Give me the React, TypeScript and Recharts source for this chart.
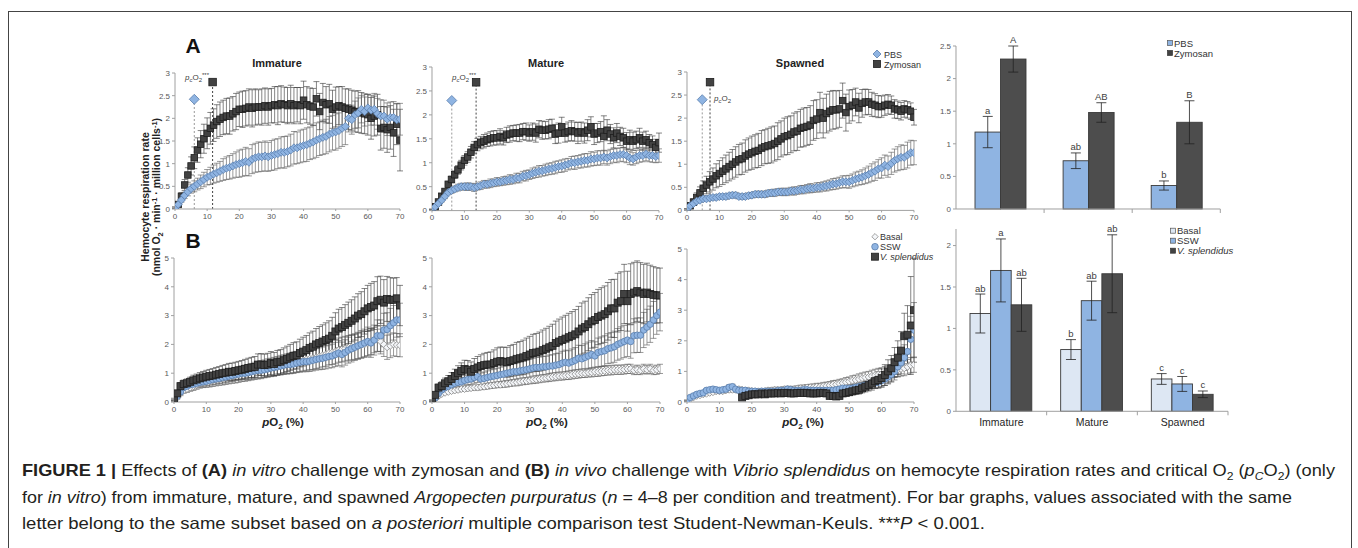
import React from "react";
import {
  Bar,
  BarChart,
  ErrorBar,
  ReferenceLine,
  Scatter,
  ScatterChart,
  XAxis,
  YAxis,
} from "recharts";

// ---- data ----
const PO2 = [
  0, 1, 2, 3, 4, 5, 6, 7, 8, 9, 10, 11, 12, 13, 14, 15, 16, 17, 18, 19, 20,
  21, 22, 23, 24, 25, 26, 27, 28, 29, 30, 31, 32, 33, 34, 35, 36, 37, 38, 39,
  40, 41, 42, 43, 44, 45, 46, 47, 48, 49, 50, 51, 52, 53, 54, 55, 56, 57, 58,
  59, 60, 61, 62, 63, 64, 65, 66, 67, 68, 69, 70,
];
const PO2_TICKS = [0, 10, 20, 30, 40, 50, 60, 70];
const A_TICKS = [0, 0.5, 1, 1.5, 2, 2.5, 3];
const B_TICKS = [0, 1, 2, 3, 4, 5];

// (A) in vitro, zymosan vs PBS
const ZYM_IMM = [
  0.03, 0.1, 0.28, 0.53, 0.75, 0.95, 1.13, 1.3, 1.43, 1.55,
  1.67, 1.78, 1.85, 1.93, 1.98, 2.02, 2.05, 2.05, 2.1, 2.15,
  2.2, 2.2, 2.22, 2.25, 2.22, 2.25, 2.25, 2.25, 2.28, 2.25,
  2.28, 2.3, 2.28, 2.32, 2.3, 2.28, 2.32, 2.28, 2.3, 2.28,
  2.4, 2.3, 2.27, 2.25, 2.43, 2.15, 2.35, 2.3, 2.32, 2.2,
  2.25, 2.28, 2.25, 2.22, 2.2, 2.18, 2.15, 2.15, 2.12, 2.1,
  2.08, 2.0, 2.05, 2.08, 1.78, 1.8, 1.75, 1.8, 1.68, 1.87,
  1.52,
];
const ZYM_IMM_SE = [
  0.02, 0.04, 0.08, 0.12, 0.16, 0.2, 0.24, 0.27, 0.3, 0.32,
  0.34, 0.35, 0.36, 0.37, 0.38, 0.38, 0.39, 0.4, 0.38, 0.4,
  0.38, 0.4, 0.39, 0.4, 0.41, 0.4, 0.38, 0.4, 0.39, 0.4,
  0.38, 0.4, 0.42, 0.4, 0.39, 0.4, 0.41, 0.4, 0.38, 0.4,
  0.42, 0.4, 0.4, 0.41, 0.38, 0.4, 0.42, 0.4, 0.43, 0.42,
  0.44, 0.42, 0.45, 0.43, 0.45, 0.44, 0.45, 0.46, 0.45, 0.44,
  0.45, 0.46, 0.44, 0.45, 0.48, 0.46, 0.5, 0.48, 0.52, 0.45,
  0.68,
];
const PBS_IMM = [
  0.02, 0.1, 0.2, 0.3, 0.38, 0.45, 0.5, 0.55, 0.6, 0.65,
  0.7, 0.73, 0.77, 0.8, 0.83, 0.87, 0.9, 0.92, 0.95, 0.98,
  1.0, 1.02, 1.05, 1.03, 1.1, 1.13, 1.15, 1.15, 1.17, 1.15,
  1.18, 1.2, 1.22, 1.25, 1.25, 1.27, 1.3, 1.35, 1.35, 1.38,
  1.4, 1.42, 1.45, 1.48, 1.52, 1.55, 1.58, 1.6, 1.65, 1.68,
  1.7, 1.73, 1.78, 1.82, 2.0, 1.97, 2.08, 2.12, 2.2, 2.15,
  2.23, 2.18, 2.2, 2.1, 2.05, 2.05, 1.98, 2.02, 2.02, 1.97,
  1.98,
];
const PBS_IMM_SE = [
  0.01, 0.03, 0.05, 0.07, 0.09, 0.1, 0.12, 0.13, 0.15, 0.16,
  0.17, 0.19, 0.2, 0.21, 0.22, 0.24, 0.25, 0.26, 0.27, 0.28,
  0.3, 0.3, 0.31, 0.3, 0.32, 0.32, 0.33, 0.32, 0.33, 0.32,
  0.33, 0.34, 0.33, 0.34, 0.35, 0.34, 0.35, 0.36, 0.35, 0.36,
  0.36, 0.37, 0.36, 0.37, 0.38, 0.37, 0.38, 0.38, 0.39, 0.38,
  0.4, 0.39, 0.4, 0.4, 0.3, 0.32, 0.3, 0.33, 0.3, 0.32,
  0.3, 0.33, 0.35, 0.34, 0.36, 0.35, 0.36, 0.34, 0.35, 0.36,
  0.35,
];
const ZYM_MAT = [
  0.02, 0.08, 0.18, 0.3, 0.4, 0.55, 0.65, 0.75, 0.85, 0.95,
  1.05, 1.12, 1.22, 1.32, 1.38, 1.42, 1.45, 1.48, 1.5, 1.52,
  1.52, 1.55, 1.52, 1.58, 1.6, 1.62, 1.62, 1.62, 1.65, 1.65,
  1.62, 1.65, 1.62, 1.7, 1.68, 1.68, 1.7, 1.72, 1.6, 1.62,
  1.75, 1.62, 1.65, 1.67, 1.65, 1.62, 1.65, 1.62, 1.68, 1.75,
  1.6, 1.62, 1.65, 1.55, 1.68, 1.6, 1.52, 1.62, 1.55, 1.52,
  1.45, 1.48, 1.45, 1.48, 1.52, 1.45, 1.48, 1.42, 1.38, 1.32,
  1.42,
];
const ZYM_MAT_SE = [
  0.01, 0.02, 0.03, 0.04, 0.05, 0.06, 0.07, 0.08, 0.09, 0.1,
  0.1, 0.11, 0.12, 0.12, 0.13, 0.13, 0.14, 0.14, 0.15, 0.15,
  0.15, 0.16, 0.15, 0.16, 0.17, 0.16, 0.17, 0.18, 0.17, 0.18,
  0.17, 0.18, 0.19, 0.18, 0.19, 0.18, 0.2, 0.19, 0.2, 0.21,
  0.2, 0.19, 0.2, 0.21, 0.2, 0.22, 0.2, 0.21, 0.22, 0.21,
  0.22, 0.2, 0.21, 0.43, 0.22, 0.2, 0.21, 0.2, 0.19, 0.2,
  0.18, 0.2, 0.19, 0.18, 0.2, 0.19, 0.18, 0.17, 0.18, 0.17,
  0.2,
];
const PBS_MAT = [
  0.02, 0.08, 0.15, 0.22, 0.3, 0.38, 0.42, 0.45, 0.48, 0.5,
  0.5, 0.5, 0.5, 0.48, 0.5, 0.52, 0.55, 0.55, 0.57, 0.58,
  0.6, 0.6, 0.62, 0.63, 0.65, 0.65, 0.68, 0.68, 0.72, 0.73,
  0.75, 0.78, 0.8, 0.82, 0.83, 0.85, 0.87, 0.88, 0.9, 0.92,
  0.93, 0.95, 0.97, 1.0, 1.0, 1.02, 1.03, 1.05, 1.05, 1.08,
  1.08, 1.1, 1.1, 1.12, 1.1, 1.13, 1.15, 1.15, 1.17, 1.17,
  1.15, 1.1, 1.08, 1.12, 1.15, 1.15, 1.18, 1.15, 1.15, 1.13,
  1.15,
];
const PBS_MAT_SE = [
  0.01, 0.02, 0.03, 0.04, 0.05, 0.05, 0.06, 0.06, 0.07, 0.07,
  0.07, 0.08, 0.07, 0.08, 0.07, 0.08, 0.08, 0.08, 0.09, 0.08,
  0.09, 0.08, 0.09, 0.09, 0.1, 0.09, 0.1, 0.1, 0.1, 0.11,
  0.1, 0.11, 0.11, 0.12, 0.11, 0.12, 0.12, 0.12, 0.13, 0.12,
  0.13, 0.13, 0.12, 0.13, 0.14, 0.13, 0.14, 0.14, 0.14, 0.15,
  0.14, 0.15, 0.15, 0.14, 0.15, 0.15, 0.14, 0.15, 0.14, 0.15,
  0.15, 0.14, 0.13, 0.14, 0.14, 0.13, 0.14, 0.13, 0.14, 0.13,
  0.14,
];
const ZYM_SPA = [
  0.02, 0.1, 0.18, 0.28, 0.38, 0.48, 0.55, 0.62, 0.68, 0.75,
  0.8, 0.85, 0.9, 0.95, 1.0, 1.05, 1.1, 1.12, 1.18, 1.22,
  1.25, 1.28, 1.3, 1.35, 1.38, 1.4, 1.42, 1.45, 1.5, 1.55,
  1.6, 1.62, 1.65, 1.7, 1.72, 1.78, 1.8, 1.82, 1.85, 1.95,
  1.98, 2.12, 2.0, 2.1, 2.15, 2.18, 2.18, 2.2, 2.38, 2.12,
  2.25, 2.28, 2.35, 2.22, 2.32, 2.35, 2.35, 2.3, 2.28, 2.25,
  2.25, 2.28, 2.3, 2.28, 2.2, 2.18, 2.15, 2.2, 2.18, 2.15,
  2.02,
];
const ZYM_SPA_SE = [
  0.02, 0.04, 0.07, 0.1, 0.13, 0.16, 0.19, 0.22, 0.24, 0.26,
  0.28, 0.29, 0.3, 0.31, 0.32, 0.33, 0.33, 0.34, 0.35, 0.35,
  0.36, 0.36, 0.37, 0.38, 0.37, 0.38, 0.39, 0.38, 0.4, 0.39,
  0.4, 0.41, 0.4, 0.41, 0.42, 0.41, 0.42, 0.41, 0.42, 0.43,
  0.42, 0.44, 0.43, 0.42, 0.43, 0.42, 0.41, 0.4, 0.38, 0.4,
  0.36, 0.34, 0.3, 0.32, 0.3, 0.28, 0.27, 0.26, 0.25, 0.24,
  0.23, 0.22, 0.21, 0.2, 0.2, 0.19, 0.19, 0.18, 0.18, 0.18,
  0.17,
];
const PBS_SPA = [
  0.02, 0.1, 0.15, 0.2, 0.22, 0.25, 0.25, 0.27, 0.28, 0.28,
  0.3, 0.3, 0.3, 0.32, 0.33, 0.33, 0.3, 0.3, 0.3, 0.32,
  0.33, 0.35, 0.35, 0.35, 0.35, 0.37, 0.38, 0.38, 0.4, 0.4,
  0.4, 0.4, 0.42, 0.42, 0.43, 0.45, 0.45, 0.47, 0.48, 0.48,
  0.5, 0.5, 0.52, 0.53, 0.55, 0.57, 0.58, 0.6, 0.62, 0.62,
  0.62, 0.65, 0.68, 0.7, 0.72, 0.75, 0.78, 0.82, 0.85, 0.9,
  0.92, 0.98, 0.95, 1.02, 1.08, 1.12, 1.15, 1.15, 1.2, 1.25,
  1.25,
];
const PBS_SPA_SE = [
  0.01, 0.02, 0.03, 0.03, 0.04, 0.04, 0.04, 0.05, 0.05, 0.05,
  0.05, 0.05, 0.06, 0.05, 0.06, 0.06, 0.05, 0.06, 0.05, 0.06,
  0.06, 0.06, 0.07, 0.06, 0.07, 0.07, 0.07, 0.08, 0.07, 0.08,
  0.08, 0.08, 0.08, 0.09, 0.08, 0.09, 0.09, 0.09, 0.1, 0.09,
  0.1, 0.1, 0.1, 0.11, 0.11, 0.12, 0.12, 0.12, 0.13, 0.13,
  0.14, 0.14, 0.15, 0.15, 0.16, 0.17, 0.18, 0.19, 0.2, 0.2,
  0.22, 0.22, 0.23, 0.24, 0.25, 0.26, 0.27, 0.26, 0.28, 0.27,
  0.26,
];

// critical pO2 markers [pO2, rate]
const CRIT_IMM = { pbs: [6.0, 2.42], zym: [11.7, 2.8] };
const CRIT_MAT = { pbs: [6.1, 2.3], zym: [13.6, 2.68] };
const CRIT_SPA = { pbs: [4.7, 2.4], zym: [7.1, 2.78] };

// (B) in vivo, V. splendidus vs SSW vs basal
const VS_IMM = [
  0.1, 0.3, 0.55, 0.62, 0.65, 0.7, 0.75, 0.78, 0.82, 0.85,
  0.88, 0.9, 0.92, 0.95, 0.97, 1.0, 1.02, 1.05, 1.05, 1.08,
  1.1, 1.12, 1.15, 1.18, 1.2, 1.22, 1.3, 1.3, 1.28, 1.3,
  1.35, 1.32, 1.38, 1.4, 1.45, 1.5, 1.55, 1.6, 1.62, 1.7,
  1.75, 1.8, 1.88, 1.92, 2.0, 2.05, 2.1, 2.15, 2.2, 2.3,
  2.45, 2.55, 2.6, 2.68, 2.75, 2.82, 2.9, 3.0, 3.05, 3.15,
  3.25, 3.3, 3.35, 3.5, 3.55, 3.45, 3.58, 3.55, 3.55, 3.6,
  3.35,
];
const VS_IMM_SE = [
  0.03, 0.08, 0.12, 0.14, 0.15, 0.16, 0.18, 0.19, 0.2, 0.21,
  0.22, 0.23, 0.24, 0.25, 0.26, 0.27, 0.28, 0.29, 0.3, 0.3,
  0.31, 0.32, 0.33, 0.34, 0.35, 0.36, 0.37, 0.38, 0.38, 0.39,
  0.4, 0.4, 0.41, 0.42, 0.43, 0.44, 0.45, 0.46, 0.47, 0.48,
  0.5, 0.51, 0.52, 0.54, 0.55, 0.57, 0.58, 0.6, 0.62, 0.64,
  0.65, 0.67, 0.68, 0.7, 0.72, 0.73, 0.75, 0.76, 0.78, 0.79,
  0.8, 0.82, 0.83, 0.85, 0.82, 0.8, 0.78, 0.77, 0.75, 0.72,
  0.7,
];
const SSW_IMM = [
  0.05, 0.2, 0.35, 0.5, 0.55, 0.6, 0.62, 0.65, 0.68, 0.7,
  0.72, 0.75, 0.78, 0.8, 0.82, 0.85, 0.87, 0.9, 0.92, 0.95,
  0.97, 1.0, 1.0, 1.02, 1.05, 1.08, 1.1, 1.1, 1.12, 1.15,
  1.18, 1.2, 1.22, 1.25, 1.28, 1.3, 1.3, 1.32, 1.35, 1.38,
  1.4, 1.4, 1.42, 1.45, 1.48, 1.5, 1.52, 1.55, 1.58, 1.6,
  1.65, 1.7, 1.65, 1.72, 1.8, 1.85, 1.9, 1.95, 2.0, 2.05,
  2.1, 2.05, 2.15, 2.3, 2.3, 2.5, 2.52, 2.65, 2.75, 2.85,
  2.85,
];
const SSW_IMM_SE = [
  0.02, 0.05, 0.08, 0.1, 0.11, 0.12, 0.13, 0.14, 0.15, 0.15,
  0.16, 0.17, 0.17, 0.18, 0.18, 0.19, 0.2, 0.2, 0.21, 0.21,
  0.22, 0.22, 0.23, 0.24, 0.24, 0.25, 0.26, 0.26, 0.27, 0.27,
  0.28, 0.29, 0.29, 0.3, 0.31, 0.31, 0.32, 0.33, 0.33, 0.34,
  0.35, 0.35, 0.36, 0.37, 0.37, 0.38, 0.39, 0.4, 0.4, 0.41,
  0.42, 0.43, 0.43, 0.44, 0.45, 0.46, 0.46, 0.47, 0.48, 0.48,
  0.5, 0.5, 0.52, 0.55, 0.55, 0.58, 0.58, 0.6, 0.6, 0.6,
  0.58,
];
const BAS_IMM = [
  0.03, 0.15, 0.3, 0.4, 0.45, 0.5, 0.55, 0.6, 0.65, 0.68,
  0.7, 0.72, 0.75, 0.78, 0.8, 0.82, 0.85, 0.88, 0.9, 0.92,
  0.95, 0.98, 1.0, 1.02, 1.05, 1.08, 1.1, 1.12, 1.15, 1.18,
  1.2, 1.22, 1.25, 1.28, 1.3, 1.32, 1.35, 1.38, 1.4, 1.42,
  1.45, 1.48, 1.5, 1.52, 1.55, 1.58, 1.62, 1.65, 1.7, 1.72,
  1.75, 1.8, 1.82, 1.85, 1.88, 1.9, 1.92, 1.95, 1.98, 2.0,
  2.05, 2.1, 2.15, 2.2, 2.1, 2.0, 1.9, 1.95, 2.0, 1.98,
  1.97,
];
const BAS_IMM_SE = [
  0.02, 0.05, 0.08, 0.1, 0.12, 0.13, 0.15, 0.16, 0.17, 0.18,
  0.19, 0.2, 0.21, 0.22, 0.22, 0.23, 0.24, 0.25, 0.25, 0.26,
  0.27, 0.27, 0.28, 0.28, 0.29, 0.3, 0.3, 0.31, 0.31, 0.32,
  0.32, 0.33, 0.33, 0.34, 0.34, 0.35, 0.35, 0.36, 0.36, 0.37,
  0.37, 0.38, 0.38, 0.39, 0.39, 0.4, 0.4, 0.41, 0.41, 0.42,
  0.42, 0.42, 0.43, 0.43, 0.43, 0.44, 0.44, 0.44, 0.45, 0.45,
  0.45, 0.45, 0.44, 0.44, 0.43, 0.42, 0.42, 0.41, 0.4, 0.4,
  0.4,
];
const VS_MAT = [
  0.05, 0.25, 0.5, 0.55, 0.65, 0.72, 0.8, 0.9, 1.0, 1.08,
  1.15, 1.12, 1.05, 1.15, 1.2, 1.25, 1.28, 1.3, 1.3, 1.35,
  1.4, 1.42, 1.4, 1.38, 1.42, 1.45, 1.5, 1.52, 1.55, 1.6,
  1.65, 1.7, 1.72, 1.75, 1.8, 1.85, 1.9, 1.95, 2.05, 2.1,
  2.15, 2.2, 2.25, 2.3, 2.35, 2.45, 2.55, 2.6, 2.7, 2.8,
  2.85, 2.95, 3.0, 3.05, 3.15, 3.25, 3.25, 3.45, 3.5, 3.75,
  3.5, 3.75, 3.8, 3.85, 3.8, 3.75, 3.8, 3.75, 3.72, 3.7,
  3.7,
];
const VS_MAT_SE = [
  0.03, 0.08, 0.12, 0.15, 0.18, 0.2, 0.22, 0.24, 0.26, 0.28,
  0.3, 0.32, 0.34, 0.36, 0.38, 0.39, 0.41, 0.42, 0.44, 0.46,
  0.48, 0.49, 0.5, 0.52, 0.54, 0.55, 0.57, 0.58, 0.6, 0.62,
  0.63, 0.65, 0.66, 0.68, 0.7, 0.71, 0.73, 0.75, 0.76, 0.78,
  0.8, 0.81, 0.83, 0.84, 0.86, 0.87, 0.89, 0.9, 0.92, 0.93,
  0.95, 0.96, 0.97, 0.98, 1.0, 1.0, 1.01, 1.02, 1.02, 1.03,
  1.04, 1.05, 1.05, 1.05, 1.04, 1.03, 1.02, 1.0, 0.98, 0.96,
  0.95,
];
const SSW_MAT = [
  0.03, 0.15, 0.3, 0.42, 0.5, 0.55, 0.6, 0.65, 0.68, 0.7,
  0.75, 0.78, 0.8, 0.85, 0.88, 0.8, 0.82, 0.85, 0.88, 0.9,
  0.92, 0.95, 0.97, 1.0, 1.02, 1.05, 1.05, 1.08, 1.1, 1.12,
  1.15, 1.18, 1.2, 1.2, 1.22, 1.22, 1.25, 1.25, 1.28, 1.3,
  1.35, 1.38, 1.35, 1.4, 1.45, 1.52, 1.5, 1.55, 1.6, 1.65,
  1.6, 1.72, 1.75, 1.78, 1.85, 1.88, 1.92, 2.0, 2.05, 2.1,
  2.15, 2.1, 2.3, 2.32, 2.32, 2.5, 2.6, 2.7, 2.85, 3.0,
  3.12,
];
const SSW_MAT_SE = [
  0.02, 0.05, 0.08, 0.1, 0.11, 0.12, 0.13, 0.14, 0.15, 0.16,
  0.17, 0.18, 0.19, 0.2, 0.2, 0.21, 0.22, 0.23, 0.24, 0.24,
  0.25, 0.26, 0.27, 0.28, 0.28, 0.29, 0.3, 0.31, 0.32, 0.32,
  0.33, 0.34, 0.35, 0.36, 0.36, 0.37, 0.38, 0.39, 0.4, 0.4,
  0.41, 0.42, 0.43, 0.44, 0.44, 0.45, 0.46, 0.47, 0.48, 0.48,
  0.49, 0.5, 0.51, 0.52, 0.52, 0.53, 0.54, 0.55, 0.56, 0.56,
  0.57, 0.58, 0.59, 0.6, 0.6, 0.61, 0.62, 0.63, 0.64, 0.65,
  0.65,
];
const BAS_MAT = [
  0.02, 0.1, 0.2, 0.28, 0.32, 0.35, 0.38, 0.4, 0.42, 0.45,
  0.45, 0.47, 0.48, 0.5, 0.5, 0.52, 0.53, 0.55, 0.57, 0.58,
  0.6, 0.6, 0.62, 0.63, 0.65, 0.67, 0.68, 0.7, 0.72, 0.73,
  0.75, 0.77, 0.78, 0.8, 0.82, 0.83, 0.85, 0.87, 0.88, 0.9,
  0.9, 0.92, 0.93, 0.95, 0.97, 0.98, 1.0, 1.0, 1.02, 1.03,
  1.05, 1.05, 1.07, 1.08, 1.1, 1.1, 1.12, 1.12, 1.12, 1.13,
  1.15, 1.15, 1.1, 1.12, 1.1, 1.15, 1.12, 1.15, 1.1, 1.12,
  1.15,
];
const BAS_MAT_SE = [
  0.01, 0.02, 0.03, 0.04, 0.05, 0.05, 0.06, 0.06, 0.07, 0.07,
  0.07, 0.08, 0.08, 0.08, 0.09, 0.09, 0.09, 0.1, 0.1, 0.1,
  0.1, 0.1, 0.11, 0.11, 0.11, 0.11, 0.12, 0.12, 0.12, 0.12,
  0.12, 0.13, 0.13, 0.13, 0.13, 0.13, 0.14, 0.14, 0.14, 0.14,
  0.14, 0.14, 0.15, 0.15, 0.15, 0.15, 0.15, 0.15, 0.15, 0.16,
  0.16, 0.16, 0.16, 0.16, 0.16, 0.16, 0.16, 0.16, 0.16, 0.16,
  0.16, 0.16, 0.15, 0.16, 0.15, 0.16, 0.15, 0.16, 0.15, 0.16,
  0.16,
];
const VS_SPA = [
  null, null, null, null, null, null, null, null, null, null,
  null, null, null, null, null, null, null, 0.15, 0.2, 0.22,
  0.25, 0.25, 0.25, 0.28, 0.25, 0.28, 0.28, 0.28, 0.3, 0.28,
  0.3, 0.3, 0.28, 0.28, 0.3, 0.3, 0.3, 0.3, 0.28, 0.28,
  0.28, 0.3, 0.3, 0.28, 0.2, 0.2, 0.18, 0.2, 0.28, 0.3,
  0.32, 0.35, 0.38, 0.4, 0.45, 0.5, 0.55, 0.6, 0.68, 0.72,
  0.78, 0.88, 1.0, 1.1, 1.3, 1.45, 1.68, 2.15, 2.2, 2.5,
  3.0,
];
const VS_SPA_SE = [
  0, 0, 0, 0, 0, 0, 0, 0, 0, 0,
  0, 0, 0, 0, 0, 0, 0, 0.05, 0.06, 0.06,
  0.06, 0.07, 0.07, 0.07, 0.07, 0.08, 0.08, 0.08, 0.08, 0.08,
  0.08, 0.09, 0.09, 0.09, 0.09, 0.09, 0.09, 0.1, 0.1, 0.1,
  0.1, 0.1, 0.1, 0.1, 0.08, 0.08, 0.08, 0.08, 0.1, 0.1,
  0.11, 0.12, 0.13, 0.14, 0.15, 0.17, 0.19, 0.21, 0.24, 0.27,
  0.3, 0.34, 0.38, 0.42, 0.48, 0.55, 0.62, 0.75, 0.95, 1.6,
  1.7,
];
const SSW_SPA = [
  0.05, 0.15, 0.2, 0.25, 0.28, 0.3, 0.38, 0.4, 0.42, 0.4,
  0.38, 0.4, 0.42, 0.48, 0.5, 0.42, 0.38, 0.38, 0.38, 0.35,
  0.35, 0.35, 0.33, 0.35, 0.35, 0.35, 0.35, 0.35, 0.37, 0.38,
  0.38, 0.42, 0.4, 0.38, 0.38, 0.38, 0.4, 0.4, 0.38, 0.38,
  0.38, 0.38, 0.38, 0.38, 0.38, 0.38, 0.4, 0.42, 0.45, 0.45,
  0.45, 0.45, 0.48, 0.5, 0.52, 0.55, 0.58, 0.6, 0.62, 0.65,
  0.7, 0.75, 0.82, 0.9, 1.0, 1.15, 1.28, 1.45, 1.65, 2.05,
  2.35,
];
const SSW_SPA_SE = [
  0.02, 0.03, 0.04, 0.05, 0.05, 0.06, 0.06, 0.07, 0.07, 0.07,
  0.07, 0.07, 0.08, 0.08, 0.08, 0.08, 0.08, 0.08, 0.08, 0.08,
  0.08, 0.08, 0.08, 0.08, 0.08, 0.08, 0.08, 0.08, 0.08, 0.08,
  0.09, 0.09, 0.09, 0.09, 0.09, 0.09, 0.09, 0.09, 0.09, 0.09,
  0.09, 0.09, 0.09, 0.1, 0.1, 0.1, 0.1, 0.1, 0.11, 0.11,
  0.11, 0.12, 0.12, 0.13, 0.13, 0.14, 0.15, 0.16, 0.17, 0.18,
  0.19, 0.21, 0.23, 0.25, 0.28, 0.32, 0.36, 0.42, 0.5, 0.75,
  0.9,
];
const BAS_SPA = [
  0.03, 0.1, 0.15, 0.2, 0.22, 0.25, 0.27, 0.3, 0.32, 0.35,
  0.35, 0.35, 0.38, 0.4, 0.4, 0.4, 0.42, 0.4, 0.38, 0.38,
  0.36, 0.35, 0.35, 0.35, 0.35, 0.38, 0.38, 0.4, 0.4, 0.4,
  0.42, 0.42, 0.42, 0.42, 0.44, 0.45, 0.45, 0.47, 0.48, 0.48,
  0.5, 0.5, 0.52, 0.53, 0.55, 0.57, 0.58, 0.6, 0.62, 0.65,
  0.67, 0.7, 0.72, 0.75, 0.78, 0.8, 0.82, 0.85, 0.88, 0.9,
  0.92, 0.95, 0.98, 1.0, 1.02, 1.05, 1.08, 1.1, 1.15, 1.2,
  1.22,
];
const BAS_SPA_SE = [
  0.01, 0.02, 0.03, 0.03, 0.04, 0.04, 0.05, 0.05, 0.05, 0.06,
  0.06, 0.06, 0.06, 0.07, 0.07, 0.07, 0.07, 0.07, 0.07, 0.07,
  0.07, 0.07, 0.07, 0.07, 0.07, 0.08, 0.08, 0.08, 0.08, 0.08,
  0.08, 0.09, 0.09, 0.09, 0.09, 0.1, 0.1, 0.1, 0.1, 0.11,
  0.11, 0.11, 0.12, 0.12, 0.12, 0.13, 0.13, 0.14, 0.14, 0.15,
  0.15, 0.16, 0.16, 0.17, 0.17, 0.18, 0.18, 0.19, 0.19, 0.2,
  0.2, 0.21, 0.21, 0.22, 0.22, 0.23, 0.23, 0.24, 0.24, 0.25,
  0.25,
];

// bar graphs
const STAGES = ["Immature", "Mature", "Spawned"];
const PBS_RATE = [1.18, 0.74, 0.36];
const PBS_RATE_SE = [0.24, 0.12, 0.07];
const PBS_GROUP = ["a", "ab", "b"];
const ZYM_RATE = [2.3, 1.48, 1.33];
const ZYM_RATE_SE = [0.2, 0.15, 0.33];
const ZYM_GROUP = ["A", "AB", "B"];
const BASAL_RATE = [1.18, 0.745, 0.39];
const BASAL_RATE_SE = [0.235, 0.12, 0.065];
const BASAL_GROUP = ["ab", "b", "c"];
const SSW_RATE = [1.7, 1.335, 0.33];
const SSW_RATE_SE = [0.38, 0.235, 0.09];
const SSW_GROUP = ["a", "ab", "c"];
const VS_RATE = [1.285, 1.66, 0.205];
const VS_RATE_SE = [0.32, 0.47, 0.04];
const VS_GROUP = ["ab", "ab", "c"];

// ---- styling ----
const FONT = "'Liberation Sans', Arial, sans-serif";
const AXIS = "#a0a0a0";
const TICK = { fontSize: 8, fill: "#595959" };
const DARK = "#424242";
const DARK_EDGE = "#1e1e1e";
const BLUE = "#8fb4e2";
const BLUE_EDGE = "#5a7fad";
const PALE = "#f4f6f9";
const PALE_EDGE = "#8c8c8c";
const BAR_PALE = "#dde7f3";

const YW = 28;
const MT = 6;
const MR = 6;
const XH = 18;
const BAR_MT = 24;

type Kind = "square" | "diamond" | "circle";

function marker(kind: Kind, size: number, fill: string, stroke: string) {
  return (p: any) => {
    const { cx, cy } = p;
    const h = size / 2;
    if (kind === "square")
      return <rect x={cx - h} y={cy - h} width={size} height={size} fill={fill} stroke={stroke} strokeWidth={0.8} />;
    if (kind === "circle")
      return <circle cx={cx} cy={cy} r={h} fill={fill} stroke={stroke} strokeWidth={0.8} />;
    return (
      <polygon
        points={`${cx},${cy - h} ${cx + h},${cy} ${cx},${cy + h} ${cx - h},${cy}`}
        fill={fill}
        stroke={stroke}
        strokeWidth={0.8}
      />
    );
  };
}

function points(ys: (number | null)[], es: number[]) {
  return PO2.map((x, i) => ({ x, y: ys[i], e: es[i] })).filter((d) => d.y !== null);
}

interface Series {
  name: string;
  ys: (number | null)[];
  es: number[];
  kind: Kind;
  size: number;
  fill: string;
  stroke: string;
  err: string;
}

const pbsSeries = (ys: number[], es: number[]): Series => ({
  name: "PBS", ys, es, kind: "diamond", size: 8, fill: BLUE, stroke: BLUE_EDGE, err: "#555",
});
const zymSeries = (ys: number[], es: number[]): Series => ({
  name: "Zymosan", ys, es, kind: "square", size: 6.5, fill: DARK, stroke: DARK_EDGE, err: "#333",
});
const basSeries = (ys: number[], es: number[]): Series => ({
  name: "Basal", ys, es, kind: "diamond", size: 7, fill: PALE, stroke: PALE_EDGE, err: "#555",
});
const sswSeries = (ys: number[], es: number[]): Series => ({
  name: "SSW", ys, es, kind: "circle", size: 6.5, fill: BLUE, stroke: BLUE_EDGE, err: "#555",
});
const vsSeries = (ys: (number | null)[], es: number[]): Series => ({
  name: "V. splendidus", ys, es, kind: "square", size: 7, fill: DARK, stroke: DARK_EDGE, err: "#333",
});

interface PanelProps {
  left: number;
  top: number;
  w: number;
  h: number;
  yMax: number;
  yTicks: number[];
  series: Series[];
  crit?: { pbs: number[]; zym: number[] };
}

function CurvePanel({ left, top, w, h, yMax, yTicks, series, crit }: PanelProps) {
  return (
    <div style={{ position: "absolute", left: left - YW, top: top - MT }}>
      <ScatterChart
        width={YW + w + MR}
        height={MT + h + XH}
        margin={{ top: MT, right: MR, bottom: 0, left: 0 }}
      >
        <XAxis
          type="number"
          dataKey="x"
          domain={[0, 70]}
          ticks={PO2_TICKS}
          interval={0}
          allowDataOverflow
          height={XH}
          tick={TICK}
          tickSize={2}
          tickMargin={2}
          axisLine={{ stroke: AXIS }}
          tickLine={{ stroke: AXIS }}
        />
        <YAxis
          type="number"
          dataKey="y"
          domain={[0, yMax]}
          ticks={yTicks}
          interval={0}
          allowDataOverflow
          width={YW}
          tick={TICK}
          tickSize={3}
          tickMargin={2}
          axisLine={{ stroke: AXIS }}
          tickLine={{ stroke: AXIS }}
        />
        {crit && (
          <ReferenceLine
            segment={[{ x: crit.pbs[0], y: 0 }, { x: crit.pbs[0], y: crit.pbs[1] }]}
            stroke="#9a9a9a"
            strokeDasharray="2 2"
          />
        )}
        {crit && (
          <ReferenceLine
            segment={[{ x: crit.zym[0], y: 0 }, { x: crit.zym[0], y: crit.zym[1] }]}
            stroke="#444"
            strokeDasharray="2 2"
          />
        )}
        {series.map((s) => (
          <Scatter
            key={s.name}
            name={s.name}
            data={points(s.ys, s.es)}
            shape={marker(s.kind, s.size, s.fill, s.stroke)}
            isAnimationActive={false}
          >
            <ErrorBar
              dataKey="e"
              direction="y"
              width={3}
              stroke={s.err}
              strokeWidth={0.6}
              isAnimationActive={false}
            />
          </Scatter>
        ))}
        {crit && (
          <Scatter
            data={[{ x: crit.pbs[0], y: crit.pbs[1] }]}
            shape={marker("diamond", 10, BLUE, BLUE_EDGE)}
            isAnimationActive={false}
          />
        )}
        {crit && (
          <Scatter
            data={[{ x: crit.zym[0], y: crit.zym[1] }]}
            shape={marker("square", 7.5, DARK, DARK_EDGE)}
            isAnimationActive={false}
          />
        )}
      </ScatterChart>
    </div>
  );
}

interface BarDef {
  key: string;
  values: number[];
  se: number[];
  groups: string[];
  fill: string;
}

const barShape = (key: string) => (p: any) => {
  const v = p.payload[key];
  const ppu = v ? p.height / v : 0;
  const top = p.y - p.payload[key + "E"] * ppu;
  return (
    <g>
      <rect x={p.x} y={p.y} width={p.width} height={p.height} fill={p.fill} stroke="#3a3a3a" strokeWidth={0.9} />
      <text x={p.x + p.width / 2} y={top - 2.5} textAnchor="middle" fontSize={9.5} fill="#404040">
        {p.payload[key + "L"]}
      </text>
    </g>
  );
};

const stageTick = (band: number, show: boolean) => (p: any) => (
  <g>
    <line x1={p.x + band / 2} x2={p.x + band / 2} y1={p.y} y2={p.y + 4} stroke={AXIS} />
    {show && (
      <text x={p.x} y={p.y + 15} textAnchor="middle" fontSize={10.5} fill="#262626">
        {p.payload.value}
      </text>
    )}
  </g>
);

interface BarPanelProps {
  left: number;
  top: number;
  w: number;
  h: number;
  yMax: number;
  yTicks: number[];
  bars: BarDef[];
  barSize: number;
  showStages: boolean;
}

function RateBars({ left, top, w, h, yMax, yTicks, bars, barSize, showStages }: BarPanelProps) {
  const data = STAGES.map((stage, i) => {
    const row: Record<string, string | number> = { stage };
    bars.forEach((b) => {
      row[b.key] = b.values[i];
      row[b.key + "E"] = b.se[i];
      row[b.key + "L"] = b.groups[i];
    });
    return row;
  });
  return (
    <div style={{ position: "absolute", left: left - YW, top: top - BAR_MT }}>
      <BarChart
        width={YW + w + MR}
        height={BAR_MT + h + 24}
        data={data}
        barGap={0}
        margin={{ top: BAR_MT, right: MR, bottom: 0, left: 0 }}
      >
        <XAxis
          dataKey="stage"
          height={24}
          interval={0}
          tickSize={0}
          tickMargin={0}
          tickLine={false}
          axisLine={{ stroke: AXIS }}
          tick={stageTick(w / 3, showStages)}
        />
        <YAxis
          type="number"
          domain={[0, yMax]}
          ticks={yTicks}
          interval={0}
          width={YW}
          tick={TICK}
          tickSize={3}
          tickMargin={2}
          axisLine={{ stroke: AXIS }}
          tickLine={{ stroke: AXIS }}
        />
        {bars.map((b) => (
          <Bar
            key={b.key}
            dataKey={b.key}
            fill={b.fill}
            barSize={barSize}
            isAnimationActive={false}
            shape={barShape(b.key)}
          >
            <ErrorBar
              dataKey={b.key + "E"}
              direction="y"
              width={5}
              stroke="#222"
              strokeWidth={0.8}
              isAnimationActive={false}
            />
          </Bar>
        ))}
      </BarChart>
    </div>
  );
}

function PcLabel({ x, y, stars }: { x: number; y: number; stars: boolean }) {
  return (
    <text x={x} y={y} fontSize={8} fill="#404040">
      <tspan fontStyle="italic">p</tspan>
      <tspan fontSize={6} dy={2} fontStyle="italic">c</tspan>
      <tspan dy={-2}>O</tspan>
      <tspan fontSize={6} dy={2}>2</tspan>
      {stars && <tspan fontSize={6} dy={-5}>***</tspan>}
    </text>
  );
}

function PO2Label({ cx }: { cx: number }) {
  return (
    <text x={cx} y={426} textAnchor="middle" fontSize={11.5} fontWeight="bold" fill="#222">
      <tspan fontStyle="italic">p</tspan>
      <tspan>O</tspan>
      <tspan fontSize={8} dy={3}>2</tspan>
      <tspan dy={-3}> (%)</tspan>
    </text>
  );
}

function Overlay() {
  return (
    <svg
      width={1358}
      height={548}
      style={{ position: "absolute", left: 0, top: 0, pointerEvents: "none" }}
      fontFamily={FONT}
    >
      <rect x={8.5} y={11.5} width={1343} height={600} fill="none" stroke="#444" strokeWidth={1} />

      <text x={193} y={52.5} textAnchor="middle" fontSize={21} fontWeight="bold" fill="#111">A</text>
      <text x={193} y={247.5} textAnchor="middle" fontSize={21} fontWeight="bold" fill="#111">B</text>

      <text x={277} y={67} textAnchor="middle" fontSize={11} fontWeight="bold" fill="#222">Immature</text>
      <text x={546} y={67} textAnchor="middle" fontSize={11} fontWeight="bold" fill="#222">Mature</text>
      <text x={800} y={67} textAnchor="middle" fontSize={11} fontWeight="bold" fill="#222">Spawned</text>

      <PcLabel x={185} y={80} stars />
      <PcLabel x={452} y={80} stars />
      <PcLabel x={714} y={101} stars={false} />

      <g transform="translate(149,197) rotate(-90)" fontWeight="bold" fontSize={10.5} fill="#222">
        <text x={0} y={0} textAnchor="middle">Hemocyte respiration rate</text>
        <text x={0} y={11} textAnchor="middle">
          (nmol O<tspan fontSize={7.5} dy={2.5}>2</tspan>
          <tspan dy={-2.5}> · min</tspan>
          <tspan fontSize={7.5} dy={-3.5}>-1</tspan>
          <tspan dy={3.5}> · million cells</tspan>
          <tspan fontSize={7.5} dy={-3.5}>-1</tspan>
          <tspan dy={3.5}>)</tspan>
        </text>
      </g>

      <PO2Label cx={283} />
      <PO2Label cx={547} />
      <PO2Label cx={803} />

      {/* legend, panel A */}
      <polygon points="877,50 881,54 877,58 873,54" fill={BLUE} stroke={BLUE_EDGE} strokeWidth={0.8} />
      <text x={884} y={57.5} fontSize={9} fill="#333">PBS</text>
      <rect x={873.5} y={60.5} width={7} height={7} fill={DARK} stroke={DARK_EDGE} strokeWidth={0.8} />
      <text x={884} y={67.5} fontSize={9} fill="#333">Zymosan</text>

      {/* legend, panel B */}
      <polygon points="875,233.5 878.2,236.7 875,239.9 871.8,236.7" fill={PALE} stroke={PALE_EDGE} strokeWidth={0.8} />
      <text x={880} y={240} fontSize={9} fill="#333">Basal</text>
      <circle cx={875} cy={246.7} r={3.3} fill={BLUE} stroke={BLUE_EDGE} strokeWidth={0.8} />
      <text x={880} y={250} fontSize={9} fill="#333">SSW</text>
      <rect x={871.5} y={253.2} width={7} height={7} fill={DARK} stroke={DARK_EDGE} strokeWidth={0.8} />
      <text x={880} y={260} fontSize={9} fill="#333" fontStyle="italic">V. splendidus</text>

      {/* legend, bars A */}
      <rect x={1167.5} y={40.5} width={5} height={5} fill={BLUE} stroke="#555" strokeWidth={0.7} />
      <text x={1174} y={46.5} fontSize={9.5} fill="#333">PBS</text>
      <rect x={1167.5} y={50.5} width={5} height={5} fill={DARK} stroke="#333" strokeWidth={0.7} />
      <text x={1174} y={56.5} fontSize={9.5} fill="#333">Zymosan</text>

      {/* legend, bars B */}
      <rect x={1170.5} y={228.2} width={5} height={5} fill={BAR_PALE} stroke="#555" strokeWidth={0.7} />
      <text x={1177} y={234} fontSize={9.5} fill="#333">Basal</text>
      <rect x={1170.5} y={238.2} width={5} height={5} fill={BLUE} stroke="#555" strokeWidth={0.7} />
      <text x={1177} y={244} fontSize={9.5} fill="#333">SSW</text>
      <rect x={1170.5} y={248.2} width={5} height={5} fill={DARK} stroke="#333" strokeWidth={0.7} />
      <text x={1177} y={254} fontSize={9.5} fill="#333" fontStyle="italic">V. splendidus</text>

      {/* caption */}
      <g fontFamily="'Liberation Sans Narrow', 'Liberation Sans', Arial, sans-serif" fontSize={16.5} fill="#231f20">
        <text x={22} y={476} textLength={1313} lengthAdjust="spacingAndGlyphs">
          <tspan fontWeight="bold">FIGURE 1 | </tspan>
          <tspan>Effects of </tspan>
          <tspan fontWeight="bold">(A)</tspan>
          <tspan fontStyle="italic"> in vitro</tspan>
          <tspan> challenge with zymosan and </tspan>
          <tspan fontWeight="bold">(B)</tspan>
          <tspan fontStyle="italic"> in vivo</tspan>
          <tspan> challenge with </tspan>
          <tspan fontStyle="italic">Vibrio splendidus</tspan>
          <tspan> on hemocyte respiration rates and critical O</tspan>
          <tspan fontSize={11} dy={4}>2</tspan>
          <tspan dy={-4}> (</tspan>
          <tspan fontStyle="italic">p</tspan>
          <tspan fontSize={11} dy={4} fontStyle="italic">C</tspan>
          <tspan dy={-4}>O</tspan>
          <tspan fontSize={11} dy={4}>2</tspan>
          <tspan dy={-4}>) (only</tspan>
        </text>
        <text x={22} y={503} textLength={1270} lengthAdjust="spacingAndGlyphs">
          <tspan>for </tspan>
          <tspan fontStyle="italic">in vitro</tspan>
          <tspan>) from immature, mature, and spawned </tspan>
          <tspan fontStyle="italic">Argopecten purpuratus</tspan>
          <tspan> (</tspan>
          <tspan fontStyle="italic">n</tspan>
          <tspan> = 4–8 per condition and treatment). For bar graphs, values associated with the same</tspan>
        </text>
        <text x={22} y={529} textLength={963} lengthAdjust="spacingAndGlyphs">
          <tspan>letter belong to the same subset based on </tspan>
          <tspan fontStyle="italic">a posteriori</tspan>
          <tspan> multiple comparison test Student-Newman-Keuls. ***</tspan>
          <tspan fontStyle="italic">P</tspan>
          <tspan> &lt; 0.001.</tspan>
        </text>
      </g>
    </svg>
  );
}

export default function App() {
  return (
    <div
      style={{
        position: "relative",
        width: 1358,
        height: 548,
        overflow: "hidden",
        background: "#fff",
        fontFamily: FONT,
      }}
    >
      <style>{`html,body{margin:0;padding:0;overflow:hidden;background:#fff}`}</style>

      <CurvePanel
        left={175} top={73.3} w={225} h={136} yMax={3} yTicks={A_TICKS}
        series={[zymSeries(ZYM_IMM, ZYM_IMM_SE), pbsSeries(PBS_IMM, PBS_IMM_SE)]}
        crit={CRIT_IMM}
      />
      <CurvePanel
        left={432} top={66.7} w={227} h={143.6} yMax={3} yTicks={A_TICKS}
        series={[zymSeries(ZYM_MAT, ZYM_MAT_SE), pbsSeries(PBS_MAT, PBS_MAT_SE)]}
        crit={CRIT_MAT}
      />
      <CurvePanel
        left={687} top={72.3} w={227} h={138.4} yMax={3} yTicks={A_TICKS}
        series={[zymSeries(ZYM_SPA, ZYM_SPA_SE), pbsSeries(PBS_SPA, PBS_SPA_SE)]}
        crit={CRIT_SPA}
      />

      <CurvePanel
        left={174.3} top={258.3} w={226} h={144} yMax={5} yTicks={B_TICKS}
        series={[basSeries(BAS_IMM, BAS_IMM_SE), sswSeries(SSW_IMM, SSW_IMM_SE), vsSeries(VS_IMM, VS_IMM_SE)]}
      />
      <CurvePanel
        left={432.3} top={258} w={228} h={144} yMax={5} yTicks={B_TICKS}
        series={[basSeries(BAS_MAT, BAS_MAT_SE), sswSeries(SSW_MAT, SSW_MAT_SE), vsSeries(VS_MAT, VS_MAT_SE)]}
      />
      <CurvePanel
        left={686.7} top={249.3} w={227} h={153} yMax={5} yTicks={B_TICKS}
        series={[basSeries(BAS_SPA, BAS_SPA_SE), sswSeries(SSW_SPA, SSW_SPA_SE), vsSeries(VS_SPA, VS_SPA_SE)]}
      />

      <RateBars
        left={955.7} top={46.3} w={264.3} h={163} yMax={2.5}
        yTicks={[0, 0.5, 1, 1.5, 2, 2.5]}
        barSize={25.5}
        showStages={false}
        bars={[
          { key: "pbs", values: PBS_RATE, se: PBS_RATE_SE, groups: PBS_GROUP, fill: BLUE },
          { key: "zym", values: ZYM_RATE, se: ZYM_RATE_SE, groups: ZYM_GROUP, fill: "#4d4d4d" },
        ]}
      />
      <RateBars
        left={956} top={229.4} w={272} h={182.3} yMax={2.2}
        yTicks={[0, 0.5, 1, 1.5, 2]}
        barSize={20.6}
        showStages
        bars={[
          { key: "basal", values: BASAL_RATE, se: BASAL_RATE_SE, groups: BASAL_GROUP, fill: BAR_PALE },
          { key: "ssw", values: SSW_RATE, se: SSW_RATE_SE, groups: SSW_GROUP, fill: BLUE },
          { key: "vs", values: VS_RATE, se: VS_RATE_SE, groups: VS_GROUP, fill: "#4d4d4d" },
        ]}
      />

      <Overlay />
    </div>
  );
}
